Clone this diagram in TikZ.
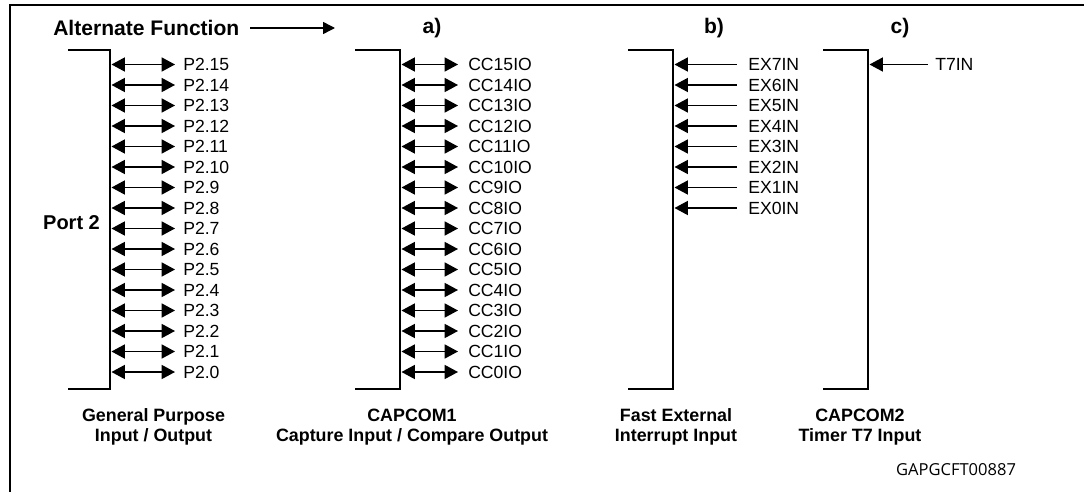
\documentclass[tikz,border=0pt]{standalone}
\usepackage{fontspec}
\setmainfont{Liberation Sans}
\newfontfamily\codefont{Open Sans}
\usetikzlibrary{arrows.meta}
\begin{document}
\begin{tikzpicture}[x=0.75pt,y=-0.75pt,
  frameline/.style={line width=2.2pt},
  brk/.style={line width=2.2pt},
  io/.style={line width=1.1pt,{Triangle[length=10pt,width=10.5pt]}-{Triangle[length=10pt,width=10.5pt]}},
  inp/.style={line width=1.1pt,{Triangle[length=10pt,width=10.5pt]}-},
  lbl/.style={anchor=west,inner sep=0pt,font=\fontsize{13.2}{15}\selectfont},
  head/.style={font=\bfseries\fontsize{15.8}{18}\selectfont,inner sep=0pt},
  capt/.style={font=\bfseries\fontsize{13.4}{15}\selectfont,align=center,inner sep=0pt},
]
\useasboundingbox (0,0) rectangle (1084,492);
% outer frame
\coordinate (fbl) at (10,492);
\coordinate (ftl) at (10,5);
\coordinate (ftr) at (1084,5);
\draw[frameline] (fbl) -- (ftl) -- (ftr);

% header
\node[head,anchor=west] (af) at (53,28) {Alternate Function};
\coordinate (afend) at (335,28);
\draw[line width=1.1pt,-{Triangle[length=9pt,width=9pt]}] ([xshift=8]af.east) -- (afend);
\node[head] (ha) at (432,28) {a)};
\node[head] (hb) at (714,28) {b)};
\node[head] (hc) at (900,28) {c)};

% brackets
\draw[brk] (68,50) -- (110,50) -- (110,389) -- (68,389);
\draw[brk] (355,50) -- (400,50) -- (400,389) -- (355,389);
\draw[brk] (628,50) -- (673,50) -- (673,389) -- (628,389);
\draw[brk] (823,50) -- (868,50) -- (868,389) -- (823,389);

\node[head,font=\bfseries\fontsize{15}{18}\selectfont] (port) at (71.5,223) {Port 2};

% Port 2 and CAPCOM1
\foreach \k in {0,...,15} {
  \pgfmathsetmacro\yy{64.5+20.5*(15-\k)}
  \coordinate (pa\k) at (111.5,\yy);
  \coordinate (pb\k) at (175,\yy);
  \node[lbl] (p\k) at (183,\yy) {P2.\k};
  \draw[io] (pa\k) -- (pb\k);
  \coordinate (ca\k) at (401.5,\yy);
  \coordinate (cb\k) at (458,\yy);
  \node[lbl] (c\k) at (468,\yy) {CC\k IO};
  \draw[io] (ca\k) -- (cb\k);
}
% Fast external interrupts
\foreach \k in {0,...,7} {
  \pgfmathsetmacro\yy{64.5+20.5*(7-\k)}
  \coordinate (ea\k) at (674.5,\yy);
  \coordinate (eb\k) at (737,\yy);
  \node[lbl] (e\k) at (748,\yy) {EX\k IN};
  \draw[inp] (ea\k) -- (eb\k);
}
% T7IN
\coordinate (ta) at (869.5,64.5);
\coordinate (tb) at (928,64.5);
\node[lbl] (t7) at (935,64.5) {T7IN};
\draw[inp] (ta) -- (tb);

% captions
\node[capt] (c1) at (153.5,427) {General Purpose\\Input / Output};
\node[capt] (c2) at (412,427) {CAPCOM1\\Capture Input / Compare Output};
\node[capt] (c3) at (676,427) {Fast External\\Interrupt Input};
\node[capt] (c4) at (860,427) {CAPCOM2\\Timer T7 Input};

\node[inner sep=0pt,font=\codefont\fontsize{12.4}{14}\selectfont] (code) at (956,470) {GAPGCFT00887};
\end{tikzpicture}
\end{document}
